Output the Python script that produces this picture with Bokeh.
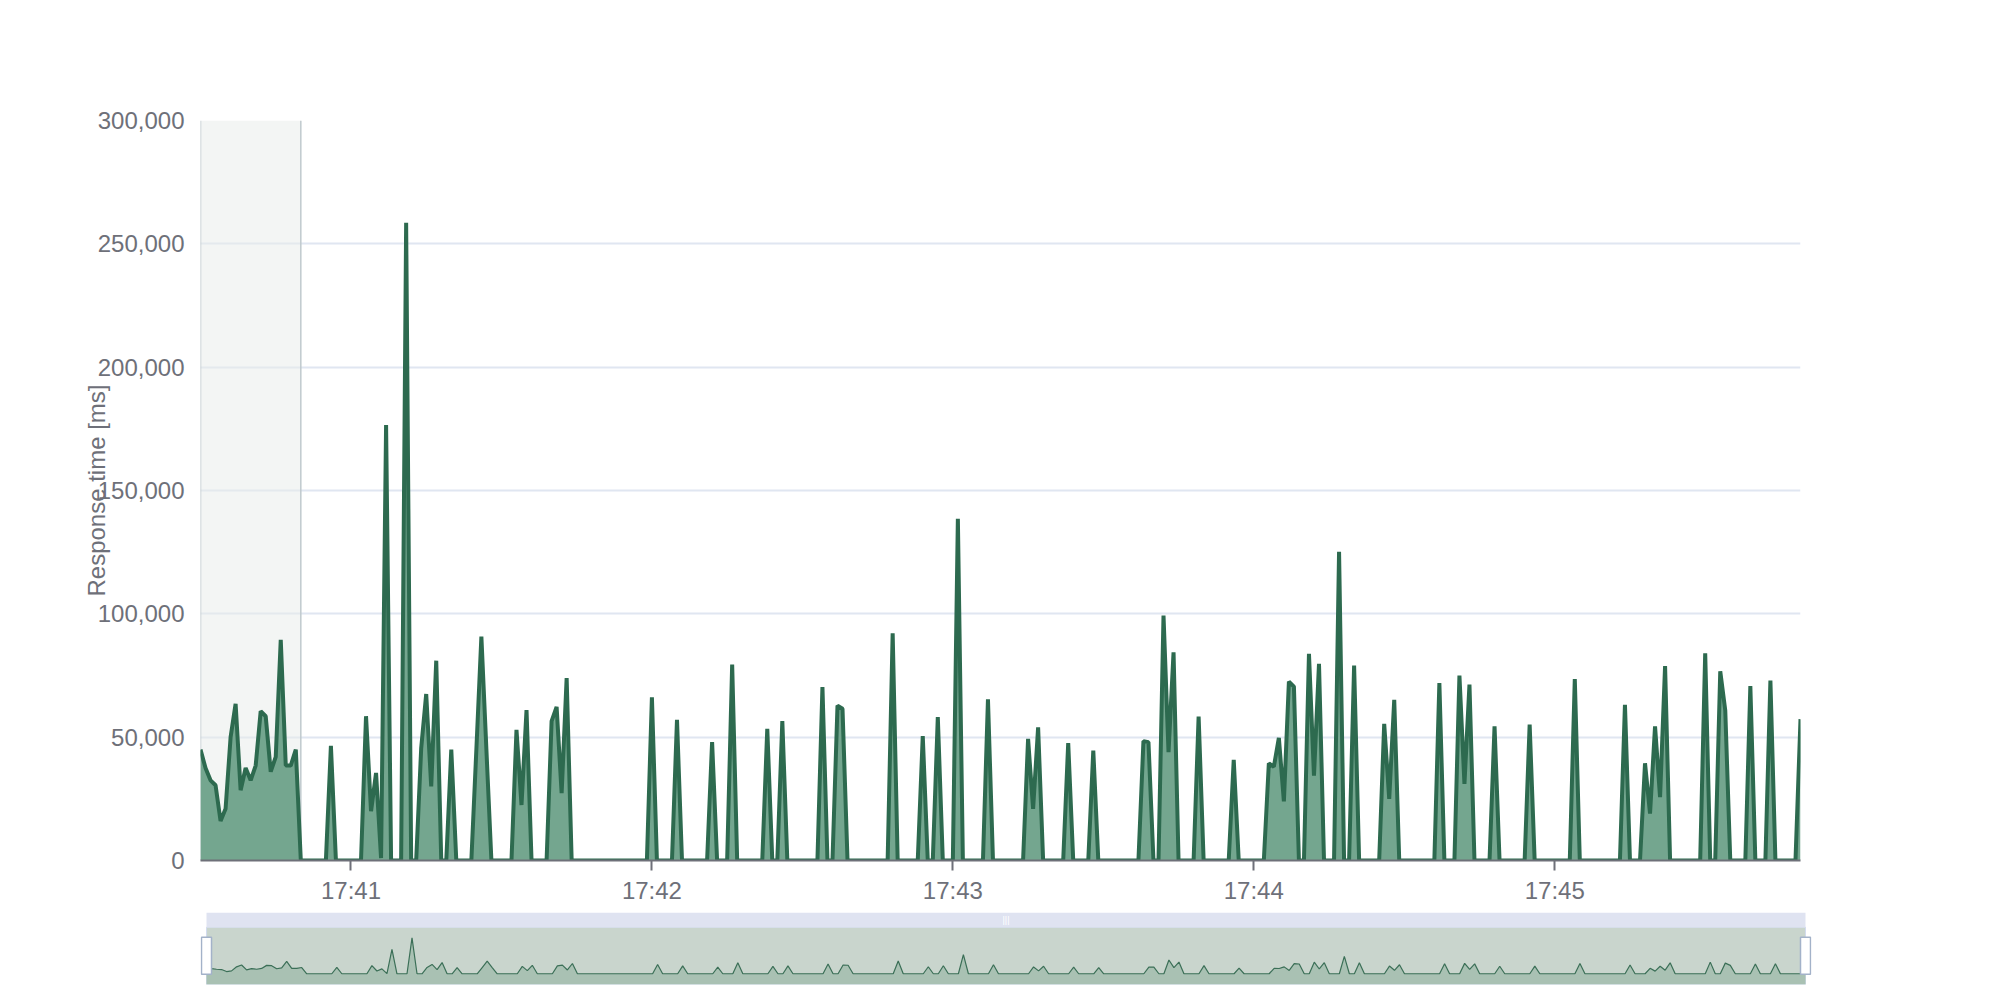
import math
import pandas as pd
from bokeh.plotting import figure
from bokeh.models import (Range1d, FixedTicker, DatetimeTickFormatter, NumeralTickFormatter,
                          ColumnDataSource)
from bokeh.layouts import column
from bokeh.core.properties import value
from bokeh.embed import file_html
from bokeh.resources import INLINE

# ---------------- data ----------------
day = "2024-01-01"
start_time = "17:40:30"
step_seconds = 1
response_ms = [
    45000, 37500, 32500, 30500, 16000, 21000, 50000, 63500, 28500, 37500, 32500, 38500, 60500, 58500, 36000, 42000, 89500, 38500, 38500, 45000,
    0, 0, 0, 0, 0, 0, 46500, 0, 0, 0, 0, 0, 0, 58500, 20000, 35500, 1000, 176500, 0, 0,
    0, 258500, 0, 0, 45500, 67500, 30000, 81000, 0, 0, 45000, 0, 0, 0, 0, 45000, 90800, 45000, 0, 0,
    0, 0, 0, 53000, 22500, 61000, 0, 0, 0, 0, 56500, 62300, 27300, 74000, 0, 0, 0, 0, 0, 0,
    0, 0, 0, 0, 0, 0, 0, 0, 0, 0, 66200, 0, 0, 0, 0, 57000, 0, 0, 0, 0,
    0, 0, 48000, 0, 0, 0, 79400, 0, 0, 0, 0, 0, 0, 53400, 0, 0, 56500, 0, 0, 0,
    0, 0, 0, 0, 70300, 0, 0, 62800, 61500, 0, 0, 0, 0, 0, 0, 0, 0, 0, 92100, 0,
    0, 0, 0, 0, 50400, 0, 0, 58100, 0, 0, 0, 138500, 0, 0, 0, 0, 0, 65300, 0, 0,
    0, 0, 0, 0, 0, 49300, 20900, 54000, 0, 0, 0, 0, 0, 47600, 0, 0, 0, 0, 44600, 0,
    0, 0, 0, 0, 0, 0, 0, 0, 48400, 48000, 0, 0, 99300, 43900, 84400, 0, 0, 0, 0, 58400,
    0, 0, 0, 0, 0, 0, 40800, 0, 0, 0, 0, 0, 0, 39400, 38000, 49700, 24000, 72500, 70500, 0,
    0, 83800, 34400, 79700, 0, 0, 0, 125200, 0, 0, 79000, 0, 0, 0, 0, 0, 55400, 25000, 65100, 0,
    0, 0, 0, 0, 0, 0, 0, 71900, 0, 0, 0, 75000, 31100, 71300, 0, 0, 0, 0, 54400, 0,
    0, 0, 0, 0, 0, 55100, 0, 0, 0, 0, 0, 0, 0, 0, 73600, 0, 0, 0, 0, 0,
    0, 0, 0, 0, 63100, 0, 0, 0, 39400, 19000, 54400, 25700, 78800, 0, 0, 0, 0, 0, 0, 0,
    84000, 0, 0, 76700, 60800, 0, 0, 0, 0, 70700, 0, 0, 0, 73000, 0, 0, 0, 0, 0, 57300,
]
highlight_start = "17:40:30"
highlight_end = "17:40:50"
x_tick_labels = ["17:41", "17:42", "17:43", "17:44", "17:45"]
y_ticks = [0, 50000, 100000, 150000, 200000, 250000, 300000]
y_title = "Response time [ms]"

# ---------------- styling ----------------
FONT = "Liberation Sans"
TXT = "#6e7079"
LINE = "#2d6a4f"
FILL = "#74a68f"

times = pd.date_range(f"{day} {start_time}", periods=len(response_ms), freq=f"{step_seconds}s")
src = ColumnDataSource(dict(x=times, y=response_ms))
t0_ms = times[0].value / 1e6
t1_ms = times[-1].value / 1e6
to_ms = lambda s: pd.Timestamp(f"{day} {s}").value / 1e6
ymax = y_ticks[-1]

FRAME_W, FRAME_H = 1600, 740
p = figure(x_axis_type="datetime",
           x_range=Range1d(t0_ms, t1_ms), y_range=Range1d(y_ticks[0], ymax),
           frame_width=FRAME_W, frame_height=FRAME_H,
           min_border_left=200, min_border_right=150, min_border_top=120, min_border_bottom=48,
           output_backend="svg", toolbar_location=None)
p.outline_line_color = None
p.background_fill_color = "white"
p.border_fill_color = "white"

# highlighted area (markArea)
hs, he = to_ms(highlight_start), to_ms(highlight_end)
p.quad(left=[hs], right=[he], bottom=[y_ticks[0]], top=[ymax],
       fill_color="#e7ebe9", fill_alpha=0.5, line_color=None)
p.segment(x0=[hs, he], y0=[y_ticks[0]] * 2, x1=[hs, he], y1=[ymax] * 2,
          line_color="#bfc9cd", line_width=1.5)

# series
p.varea(x="x", y1=0, y2="y", source=src, fill_color=FILL)
p.line(x="x", y="y", source=src, line_color=LINE, line_width=4, line_join="bevel")

# grid
p.xgrid.grid_line_color = None
p.ygrid.ticker = FixedTicker(ticks=y_ticks)
p.ygrid.grid_line_color = "#e0e6f1"
p.ygrid.grid_line_width = 2

# y axis
p.yaxis.ticker = FixedTicker(ticks=y_ticks)
p.yaxis.formatter = NumeralTickFormatter(format="0,0")
p.yaxis.axis_line_color = None
p.yaxis.major_tick_line_color = None
p.yaxis.minor_tick_line_color = None
p.yaxis.major_tick_out = 0
p.yaxis.major_label_standoff = 16
p.yaxis.major_label_text_font = FONT
p.yaxis.major_label_text_font_size = "24px"
p.yaxis.major_label_text_color = TXT
# axis title overlapping the tick labels, as in the original
p.yaxis.axis_label = y_title
p.yaxis.axis_label_standoff = -15
p.yaxis.axis_label_text_font = FONT
p.yaxis.axis_label_text_font_size = "24px"
p.yaxis.axis_label_text_font_style = "normal"
p.yaxis.axis_label_text_color = TXT

# x axis
x_ticks = [to_ms(l) for l in x_tick_labels]
p.xaxis.ticker = FixedTicker(ticks=x_ticks)
fmt = "%H:%M"
p.xaxis.formatter = DatetimeTickFormatter(milliseconds=fmt, seconds=fmt, minsec=fmt, minutes=fmt,
                                          hourmin=fmt, hours=fmt)
p.xaxis.axis_line_color = TXT
p.xaxis.axis_line_width = 2
p.xaxis.major_tick_line_color = TXT
p.xaxis.major_tick_line_width = 2
p.xaxis.major_tick_out = 10
p.xaxis.major_tick_in = 0
p.xaxis.minor_tick_line_color = None
p.xaxis.major_label_standoff = 6
p.xaxis.major_label_text_font = FONT
p.xaxis.major_label_text_font_size = "24px"
p.xaxis.major_label_text_color = TXT

# ---------------- data-zoom slider ----------------
S_PAD = 6           # px on each side for the handles
S_FRAME_W, S_FRAME_H = 1599 + 2 * S_PAD, 72
S_DATA_H = 57.3     # px of the shadow region
dmax = max(response_ms)
s_lo = -0.3 * dmax
s_hi = 1.3 * dmax
s_top = s_lo + (s_hi - s_lo) * S_FRAME_H / S_DATA_H
s_px_per_ms = (S_FRAME_W - 2 * S_PAD) / (t1_ms - t0_ms)
pad_ms = S_PAD / s_px_per_ms

p2 = figure(x_range=Range1d(t0_ms - pad_ms, t1_ms + pad_ms), y_range=Range1d(s_lo, s_top),
            frame_width=S_FRAME_W, frame_height=S_FRAME_H,
            min_border_left=200, min_border_right=100, min_border_top=4, min_border_bottom=6,
            x_axis_type=None, y_axis_type=None, output_backend="svg", toolbar_location=None)
p2.outline_line_color = None
p2.background_fill_color = "white"
p2.border_fill_color = "white"

p2.quad(left=[t0_ms], right=[t1_ms], bottom=[s_lo], top=[s_hi],
        fill_color="#c9d5cd", line_color="#d2dbee", line_width=1)
p2.quad(left=[t0_ms], right=[t1_ms], bottom=[s_hi], top=[s_top],
        fill_color="#dfe3f1", line_color=None)
p2.varea(x="x", y1=s_lo, y2="y", source=src, fill_color="#a9c1b3")
p2.line(x="x", y="y", source=src, line_color="#3b6f57", line_width=1.2)
p2.text(x=[(t0_ms + t1_ms) / 2], y=[(s_hi + s_top) / 2], text=["|||"],
        text_color="white", text_font_size="9px", text_align="center", text_baseline="middle",
        text_font=value(FONT))
p2.rect(x=[t0_ms, t1_ms], y=[(s_lo + s_hi) / 2] * 2, width=10, height=37,
        width_units="screen", height_units="screen",
        fill_color="white", line_color="#a3b2c9", line_width=1.5)

layout = column(p, p2, spacing=0)
open("out.html", "w").write(file_html(layout, INLINE))
